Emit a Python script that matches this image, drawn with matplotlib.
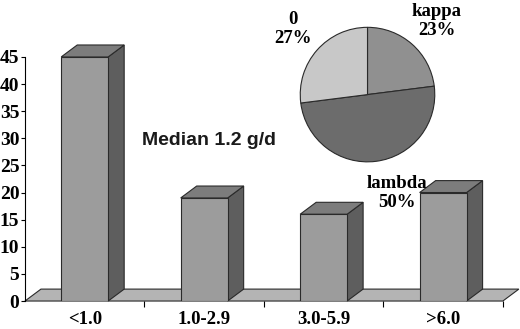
import matplotlib
matplotlib.use("Agg")
import matplotlib.pyplot as plt
from matplotlib.patches import Polygon

# data
categories = ["<1.0", "1.0-2.9", "3.0-5.9", ">6.0"]
counts = [45, 19, 16, 20]
pie_labels = ["kappa", "lambda", "0"]
pie_shares = [23, 50, 27]

FRONT = "#9c9c9c"
SIDE = "#5e5e5e"
TOP = "#7c7c7c"
FLOOR = "#b4b4b4"
EDGE = "#2a2a2a"
serif = ["Liberation Serif", "DejaVu Serif"]

fig = plt.figure(figsize=(5.2, 3.29), dpi=100)
ax = fig.add_axes([0.048, 0.085, 0.919, 0.742])

ax.set_xlim(0, len(categories))
ax.set_ylim(0, 45)

# 3D depth offset in data units
dx, dy = 0.134, 2.2
width = 0.393
xs = [i + 0.5 for i in range(len(categories))]

# floor
ax.add_patch(Polygon([(0, 0), (len(categories), 0), (len(categories) + dx, dy), (dx, dy)],
                     closed=True, facecolor=FLOOR, edgecolor=EDGE, linewidth=0.8,
                     zorder=1, clip_on=False))

for x, h in zip(xs, counts):
    l, r = x - width / 2, x + width / 2
    ax.bar(x, h, width=width, color=FRONT, edgecolor=EDGE, linewidth=0.8, zorder=3)
    ax.add_patch(Polygon([(r, 0), (r + dx, dy), (r + dx, h + dy), (r, h)], closed=True,
                         facecolor=SIDE, edgecolor=EDGE, linewidth=0.8, zorder=2, clip_on=False))
    ax.add_patch(Polygon([(l, h), (l + dx, h + dy), (r + dx, h + dy), (r, h)], closed=True,
                         facecolor=TOP, edgecolor=EDGE, linewidth=0.8, zorder=2, clip_on=False))

ax.spines["top"].set_visible(False)
ax.spines["right"].set_visible(False)
ax.spines["bottom"].set_visible(False)
ax.spines["left"].set_linewidth(0.8)

ax.set_yticks(range(0, 46, 5))
ax.set_yticklabels([str(v) for v in range(0, 46, 5)], family=serif, fontweight="bold",
                   fontsize=14)
ax.tick_params(axis="y", length=3, width=0.8, pad=1)

ax.set_xticks(xs)
ax.set_xticklabels(categories, family=serif, fontweight="bold", fontsize=13.5)
ax.set_xticks(range(1, len(categories) + 1), minor=True)
ax.tick_params(axis="x", which="major", length=0, pad=7)
ax.tick_params(axis="x", which="minor", length=4, width=0.8)

ax.text(0.401, 0.574, "Median 1.2 g/d", transform=fig.transFigure, ha="center", va="center",
        family=["Liberation Sans", "DejaVu Sans"], fontweight="bold", fontsize=14,
        color="#1a1a1a")

# inset pie
pax = fig.add_axes([0.576, 0.506, 0.2615, 0.413])
pax.pie(pie_shares, colors=["#909090", "#6c6c6c", "#c8c8c8"], startangle=90,
        counterclock=False, wedgeprops=dict(edgecolor=EDGE, linewidth=0.8))
pax.set_xlim(-1.01, 1.01)
pax.set_ylim(-1.01, 1.01)
pax.set_aspect("equal")

label_pos = {"kappa": (0.840, 0.936), "lambda": (0.763, 0.413), "0": (0.563, 0.912)}
for name, share in zip(pie_labels, pie_shares):
    px, py = label_pos[name]
    fig.text(px, py, f"{name}\n{share}%", ha="center", va="center", family=serif,
             fontweight="bold", fontsize=13.5, linespacing=1.1)

fig.savefig("out.png", dpi=100)
